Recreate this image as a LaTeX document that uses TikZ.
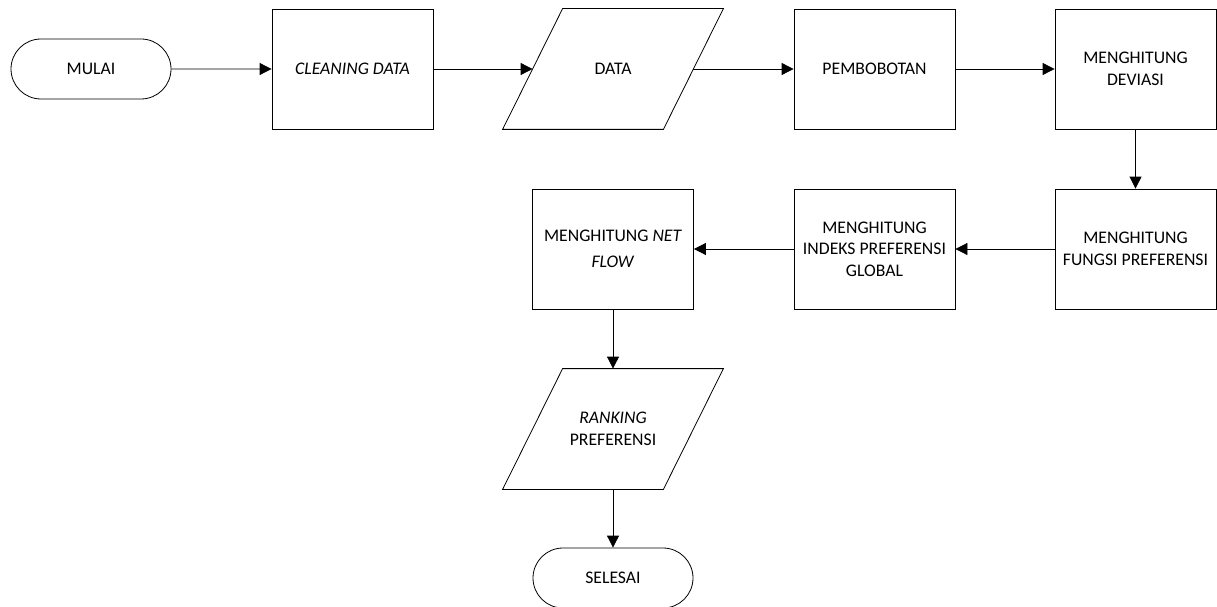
\documentclass[tikz,border=0pt]{standalone}
\usepackage{fontspec}
\setmainfont{Carlito}
\usetikzlibrary{shapes.misc,arrows.meta}
\begin{document}
\begin{tikzpicture}[x=1pt,y=-1pt,
  every node/.style={font=\fontsize{17.7}{21.5}\selectfont, align=center, inner sep=0pt, line width=0.8pt},
  procbox/.style={draw, rectangle, minimum width=161pt, minimum height=120pt},
  termbox/.style={draw, rounded rectangle, minimum width=160pt, minimum height=60pt},
  iobox/.style={rectangle, minimum width=160pt, minimum height=120pt},
  ioline/.style={draw, line width=0.8pt, line join=miter},
  conn/.style={draw, line width=0.8pt, -{Triangle[length=12pt,width=12pt]}}]
\useasboundingbox (0,0) rectangle (1217,607);
\node[termbox] (mulai) at (91,69) {MULAI};
\node[procbox] (clean) at (352.5,69) {\textit{CLEANING DATA}};
\node[iobox] (data) at (613,69) {DATA};
\node[procbox] (pemb) at (874.5,69) {PEMBOBOTAN};
\node[procbox] (dev) at (1135.5,69) {MENGHITUNG\\DEVIASI};
\node[procbox] (fungsi) at (1135.5,249) {MENGHITUNG\\FUNGSI PREFERENSI};
\node[procbox] (indeks) at (874.5,249) {MENGHITUNG\\INDEKS PREFERENSI\\GLOBAL};
\node[procbox] (net) at (613,249) {MENGHITUNG \textit{NET}\\[5pt]\textit{FLOW}};
\node[iobox] (rank) at (613,429) {\textit{RANKING}\\PREFERENSI};
\node[termbox] (selesai) at (613,578) {SELESAI};
\foreach \n in {data,rank}
  \draw[ioline] ([xshift=30pt]\n.north west) -- ([xshift=30pt]\n.north east)
    -- ([xshift=-30pt]\n.south east) -- ([xshift=-30pt]\n.south west) -- cycle;
\draw[conn] (mulai) -- (clean);
\draw[conn] (clean) -- (data);
\draw[conn] (data) -- (pemb);
\draw[conn] (pemb) -- (dev);
\draw[conn] (dev) -- (fungsi);
\draw[conn] (fungsi) -- (indeks);
\draw[conn] (indeks) -- (net);
\draw[conn] (net) -- (rank);
\draw[conn] (rank) -- (selesai);
\end{tikzpicture}
\end{document}
